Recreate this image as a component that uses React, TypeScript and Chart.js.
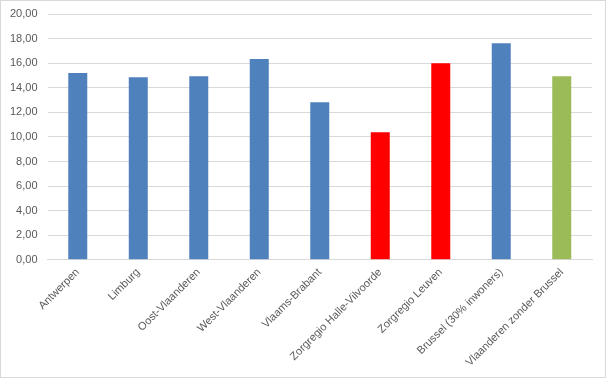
import React, { useEffect, useRef } from "react";
import { Chart, registerables } from "chart.js";

Chart.register(...registerables);

const categories = [
  "Antwerpen",
  "Limburg",
  "Oost-Vlaanderen",
  "West-Vlaanderen",
  "Vlaams-Brabant",
  "Zorgregio Halle-Vilvoorde",
  "Zorgregio Leuven",
  "Brussel (30% inwoners)",
  "Vlaanderen zonder Brussel",
];
const values = [15.2, 14.86, 14.94, 16.33, 12.82, 10.37, 16.0, 17.63, 14.94];
const barColors = [
  "#4f81bd",
  "#4f81bd",
  "#4f81bd",
  "#4f81bd",
  "#4f81bd",
  "#ff0000",
  "#ff0000",
  "#4f81bd",
  "#9bbb59",
];
const yMin = 0;
const yMax = 20;
const yStep = 2;

const borderPlugin = {
  id: "outerBorder",
  afterDraw(chart: any) {
    const { ctx, width, height } = chart;
    ctx.save();
    ctx.strokeStyle = "#d9d9d9";
    ctx.lineWidth = 1;
    ctx.strokeRect(0.5, 0.5, width - 1, height - 1);
    ctx.restore();
  },
};

export default function App() {
  const ref = useRef<HTMLCanvasElement | null>(null);
  useEffect(() => {
    document.body.style.margin = "0";
    if (!ref.current) return;
    const chart = new Chart(ref.current, {
      type: "bar",
      data: {
        labels: categories,
        datasets: [
          {
            data: values,
            backgroundColor: barColors,
            borderWidth: 0,
            categoryPercentage: 1,
            barPercentage: 0.314,
          },
        ],
      },
      options: {
        animation: false,
        responsive: false,
        maintainAspectRatio: false,
        layout: { padding: { left: 0, right: 14, top: 14, bottom: 3 } },
        plugins: { legend: { display: false }, tooltip: { enabled: false } },
        scales: {
          x: {
            grid: { display: false, drawTicks: false },
            border: { display: true, color: "#d9d9d9" },
            ticks: {
              maxRotation: 45,
              minRotation: 45,
              autoSkip: false,
              padding: 6,
              color: "#595959",
              font: { family: "Liberation Sans", size: 11 },
            },
          },
          y: {
            min: yMin,
            max: yMax,
            afterFit: (s: any) => {
              s.paddingTop = 0;
            },
            grid: { color: "#d9d9d9", drawTicks: false },
            border: { display: false },
            ticks: {
              stepSize: yStep,
              padding: 10,
              color: "#595959",
              font: { family: "Liberation Sans", size: 11 },
              callback: (v: any) => Number(v).toFixed(2).replace(".", ","),
            },
          },
        },
      },
      plugins: [borderPlugin],
    });
    return () => chart.destroy();
  }, []);
  return (
    <div style={{ width: 606, height: 378 }}>
      <canvas ref={ref} width={606} height={378} style={{ display: "block" }} />
    </div>
  );
}
